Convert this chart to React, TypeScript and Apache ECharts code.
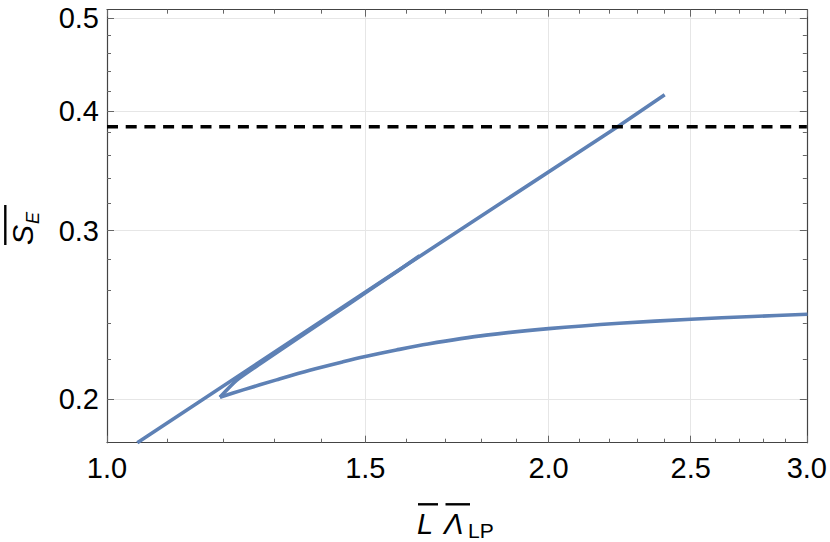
import React, { useEffect, useRef } from "react";
import * as echarts from "echarts";

// ---- data ----
const xMajorTicks = [1.0, 1.5, 2.0, 2.5, 3.0];
const xMinorTicks = [1.1, 1.2, 1.3, 1.4, 1.6, 1.7, 1.8, 1.9, 2.1, 2.2, 2.3, 2.4, 2.6, 2.7, 2.8, 2.9];
const yMajorTicks = [0.2, 0.3, 0.4, 0.5];
const yMinorTicks = [0.22, 0.24, 0.26, 0.28, 0.32, 0.34, 0.36, 0.38, 0.42, 0.44, 0.46, 0.48];

const xRange = [1.0, 3.0];
const yRange = [0.18, 0.5105];

// straight branch (log-log)
const mainLine = [
  [1.0487, 0.18],
  [1.583, 0.2731],
  [2.229, 0.3852],
  [2.4, 0.416],
];
// branch leaving the cusp upwards and merging into the straight line
const upperBranch = [
  [1.1939, 0.2008],
  [1.2255, 0.2091],
  [1.2711, 0.2175],
  [1.3534, 0.2321],
  [1.4638, 0.2517],
  [1.583, 0.273],
  [1.6335, 0.2823],
];
// branch leaving the cusp to the right and flattening
const lowerBranch = [
  [1.1939, 0.2008],
  [1.2383, 0.2044],
  [1.3049, 0.2094],
  [1.3748, 0.2143],
  [1.4484, 0.2187],
  [1.5002, 0.2215],
  [1.575, 0.225],
  [1.655, 0.2283],
  [1.8136, 0.2332],
  [2.0006, 0.2369],
  [2.2353, 0.24],
  [2.501, 0.2423],
  [2.7547, 0.2439],
  [3.003, 0.2452],
];
const referenceLevel = 0.3852;

const BLUE = "#5E81B5";
const FRAME = "#444444";
const TICK = "#666666";
const GRID = "#e6e6e6";
const FONT = '"Liberation Sans", Arial, sans-serif';

function axisBase(type: "x" | "y") {
  return {
    type: "log",
    logBase: 10,
    min: type === "x" ? xRange[0] : yRange[0],
    max: type === "x" ? xRange[1] : yRange[1],
  };
}

export default function App() {
  const ref = useRef<HTMLDivElement>(null);

  useEffect(() => {
    if (!ref.current) return;
    const chart = echarts.init(ref.current, null, { renderer: "svg" });

    const fmt = (v: number) => Number(v).toFixed(1);
    const labelStyle = { color: "#000", fontSize: 29, fontFamily: FONT };

    const xAxes = [
      {
        ...axisBase("x"),
        position: "bottom",
        axisLine: { show: true, lineStyle: { color: FRAME, width: 1.2 } },
        axisTick: { show: true, inside: true, length: 7, customValues: xMajorTicks, lineStyle: { color: TICK, width: 1 } },
        axisLabel: { show: true, customValues: xMajorTicks, formatter: fmt, margin: 11, ...labelStyle },
        splitLine: { show: true, lineStyle: { color: GRID, width: 1 } },
      },
      {
        ...axisBase("x"),
        position: "bottom",
        axisLine: { show: false },
        axisTick: { show: true, inside: true, length: 4, customValues: xMinorTicks, lineStyle: { color: TICK, width: 1 } },
        axisLabel: { show: false },
        splitLine: { show: false },
      },
      {
        ...axisBase("x"),
        position: "top",
        axisLine: { show: true, lineStyle: { color: FRAME, width: 1.2 } },
        axisTick: { show: true, inside: true, length: 7, customValues: xMajorTicks, lineStyle: { color: TICK, width: 1 } },
        axisLabel: { show: false },
        splitLine: { show: false },
      },
      {
        ...axisBase("x"),
        position: "top",
        axisLine: { show: false },
        axisTick: { show: true, inside: true, length: 4, customValues: xMinorTicks, lineStyle: { color: TICK, width: 1 } },
        axisLabel: { show: false },
        splitLine: { show: false },
      },
    ];

    const yAxes = [
      {
        ...axisBase("y"),
        position: "left",
        axisLine: { show: true, lineStyle: { color: FRAME, width: 1.2 } },
        axisTick: { show: true, inside: true, length: 7, customValues: yMajorTicks, lineStyle: { color: TICK, width: 1 } },
        axisLabel: { show: true, customValues: yMajorTicks, formatter: fmt, margin: 8, ...labelStyle },
        splitLine: { show: true, lineStyle: { color: GRID, width: 1 } },
      },
      {
        ...axisBase("y"),
        position: "left",
        axisLine: { show: false },
        axisTick: { show: true, inside: true, length: 4, customValues: yMinorTicks, lineStyle: { color: TICK, width: 1 } },
        axisLabel: { show: false },
        splitLine: { show: false },
      },
      {
        ...axisBase("y"),
        position: "right",
        axisLine: { show: true, lineStyle: { color: FRAME, width: 1.2 } },
        axisTick: { show: true, inside: true, length: 7, customValues: yMajorTicks, lineStyle: { color: TICK, width: 1 } },
        axisLabel: { show: false },
        splitLine: { show: false },
      },
      {
        ...axisBase("y"),
        position: "right",
        axisLine: { show: false },
        axisTick: { show: true, inside: true, length: 4, customValues: yMinorTicks, lineStyle: { color: TICK, width: 1 } },
        axisLabel: { show: false },
        splitLine: { show: false },
      },
    ];

    const lineSeries = (data: number[][], smooth: number | boolean = false) => ({
      type: "line",
      xAxisIndex: 0,
      yAxisIndex: 0,
      data,
      showSymbol: false,
      symbol: "none",
      smooth,
      clip: true,
      lineStyle: { color: BLUE, width: 3.6 },
      z: 3,
    });

    const italic = (size: number) => `italic ${size}px ${FONT}`;
    const normal = (size: number) => `${size}px ${FONT}`;

    const txt = (text: string, x: number, y: number, font: string) => ({
      type: "text",
      style: {
        text,
        x,
        y,
        font,
        fill: "#000",
        align: "left",
        verticalAlign: "middle",
        textAlign: "left",
        textVerticalAlign: "middle",
      },
    });
    const bar = (x1: number, y1: number, x2: number, y2: number) => ({
      type: "line",
      shape: { x1, y1, x2, y2 },
      style: { stroke: "#000", lineWidth: 2.4 },
    });

    const option = {
      animation: false,
      grid: { left: 107, right: 22.3, top: 9.7, bottom: 99.3, containLabel: false },
      xAxis: xAxes,
      yAxis: yAxes,
      series: [
        lineSeries(mainLine),
        lineSeries(upperBranch, 0.2),
        lineSeries(lowerBranch, 0.3),
        {
          type: "line",
          xAxisIndex: 0,
          yAxisIndex: 0,
          data: [
            [xRange[0], referenceLevel],
            [xRange[1], referenceLevel],
          ],
          showSymbol: false,
          symbol: "none",
          lineStyle: { color: "#000", width: 3.6, type: [11, 7.7] },
          z: 4,
        },
      ],
      graphic: [
        {
          type: "group",
          children: [
            txt("L", 417, 524, italic(29)),
            bar(418, 504.3, 438, 504.3),
            txt("Λ", 444, 524, italic(29)),
            bar(445.5, 504.3, 470, 504.3),
            txt("LP", 468, 530.5, normal(21)),
          ],
        },
        {
          type: "group",
          x: 0,
          y: 245,
          rotation: Math.PI / 2,
          children: [
            txt("S", 0, 22.5, italic(30)),
            txt("E", 21, 33, italic(18)),
            bar(0, 5.3, 40, 5.3),
          ],
        },
      ],
    };

    chart.setOption(option as any);
    return () => chart.dispose();
  }, []);

  return (
    <div
      ref={ref}
      style={{ position: "absolute", left: 0, top: 0, width: 830, height: 542, background: "#fff" }}
    />
  );
}
